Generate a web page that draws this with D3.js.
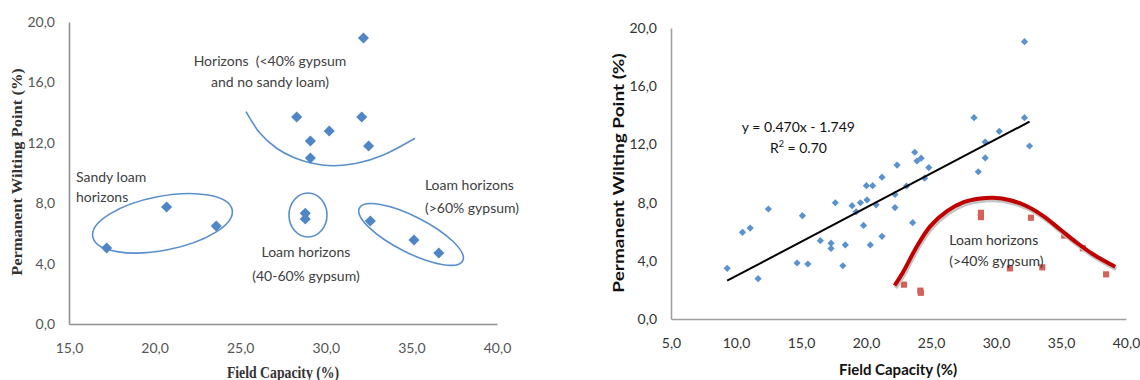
<!DOCTYPE html>
<html>
<head>
<meta charset="utf-8">
<script src="https://cdnjs.cloudflare.com/ajax/libs/d3/7.8.5/d3.min.js"></script>
<style>
  body { margin: 0; background: #fff; }
  svg { font-family: Lato, sans-serif; }
</style>
</head>
<body>
<script>
// ---- data ----
// left panel: all horizons, field capacity (%) vs permanent wilting point (%)
var leftFC  = [17.2, 20.7, 23.6, 28.8, 28.8, 32.6, 35.15, 36.6, 32.2, 28.3, 32.1, 30.2, 29.1, 32.5, 29.1];
var leftPWP = [5.03, 7.75, 6.49, 7.33, 6.95, 6.82, 5.56, 4.70, 18.94, 13.71, 13.71, 12.78, 12.12, 11.79, 10.99];

// right panel: blue = horizons used for the linear fit, red = loam horizons (>40% gypsum)
var blueFC  = [9.32, 10.50, 11.09, 12.49, 11.70, 15.11, 14.70, 15.53, 16.49, 17.31, 17.31, 17.64, 18.41, 18.22,
               18.93, 19.24, 19.57, 19.81, 20.03, 20.08, 20.33, 20.51, 20.78, 21.23, 21.23, 22.23, 22.23, 22.39,
               23.12, 23.59, 23.75, 23.92, 24.24, 24.51, 24.83, 28.31, 28.64, 29.17, 29.17, 30.25, 32.19, 32.19, 32.58];
var bluePWP = [3.48, 5.96, 6.25, 7.56, 2.77, 7.10, 3.85, 3.78, 5.38, 5.21, 4.85, 7.99, 5.09, 3.66,
               7.79, 7.37, 7.99, 6.43, 9.16, 8.18, 5.09, 9.16, 7.85, 9.75, 5.68, 8.56, 7.66, 10.58,
               9.14, 6.62, 11.46, 10.86, 11.05, 9.68, 10.41, 13.84, 10.12, 12.16, 11.07, 12.90, 19.06, 13.84, 11.89];
var redFC  = [22.92, 24.18, 24.22, 28.84, 28.84, 31.07, 32.69, 33.56, 35.25, 36.68, 38.47];
var redPWP = [2.36, 1.95, 1.80, 7.30, 7.00, 3.48, 6.96, 3.55, 5.73, 4.86, 3.07];

// linear fit shown on the chart: y = 0.470x - 1.749
var fitSlope = 0.470, fitIntercept = -1.749;

// red trend curve
var curveFC  = [22.20, 22.89, 23.92, 24.95, 26.23, 27.51, 28.79, 29.81, 31.10, 32.38, 33.65, 34.94, 36.22, 37.50, 39.17];
var curvePWP = [2.30, 3.29, 5.00, 6.38, 7.41, 8.03, 8.28, 8.33, 8.16, 7.75, 7.07, 6.15, 5.24, 4.43, 3.59];

// "Horizons (<40% gypsum...)" bracket curve in the left panel
var arcFC  = [25.34, 26.16, 27.13, 28.10, 29.08, 30.44, 31.81, 33.36, 35.21];
var arcPWP = [14.06, 12.63, 11.64, 11.04, 10.68, 10.48, 10.64, 11.19, 12.30];

var yTicks = [0, 4, 8, 12, 16, 20];
var xTicksLeft = [15, 20, 25, 30, 35, 40];
var xTicksRight = [5, 10, 15, 20, 25, 30, 35, 40];

var fmt = function(d){ return d3.format('.1f')(d).replace('.', ','); };
var zip = function(a, b){ return a.map(function(d, i){ return [d, b[i]]; }); };
var serif = '"Liberation Serif", "Times New Roman", serif';

var svg = d3.select('body').append('svg')
            .attr('width', 1140)
            .attr('height', 380);

function note(g, x, y, lines, anchor, lh, size, color){
  var t = g.append('text')
           .attr('text-anchor', anchor)
           .attr('font-size', size)
           .attr('fill', color)
           .style('white-space', 'pre');
  lines.forEach(function(s, i){
    t.append('tspan').attr('x', x).attr('y', y + i * lh).text(s);
  });
  return t;
}

function axes(g, x, y, h, xt, pad, lineColor, textColor){
  var ax = g.append('g')
            .attr('transform', 'translate(0,' + h + ')')
            .call(d3.axisBottom(x).tickValues(xt).tickFormat(fmt).tickSize(0).tickPadding(pad));
  var ay = g.append('g')
            .call(d3.axisLeft(y).tickValues(yTicks).tickFormat(fmt).tickSize(0).tickPadding(14));
  [ax, ay].forEach(function(a){
    a.attr('font-family', 'Lato, sans-serif').attr('font-size', 14);
    a.select('.domain').attr('stroke', lineColor).attr('stroke-width', 1.6);
    a.selectAll('text').attr('fill', textColor);
  });
}

// ================= left panel =================
var L = { left: 69, top: 22, width: 428, height: 302 };
var xL = d3.scaleLinear().domain([15, 40]).range([0, L.width]);
var yL = d3.scaleLinear().domain([0, 20]).range([L.height, 0]);
var gL = svg.append('g').attr('transform', 'translate(' + L.left + ',' + L.top + ')');

axes(gL, xL, yL, L.height, xTicksLeft, 19, '#8f8f8f', '#555');

var outline = '#5b8fcc';
// group outlines
gL.append('path')
  .datum(zip(arcFC, arcPWP))
  .attr('fill', 'none').attr('stroke', outline).attr('stroke-width', 1.6)
  .attr('d', d3.line().x(function(d){ return xL(d[0]); }).y(function(d){ return yL(d[1]); }).curve(d3.curveCatmullRom));

var rings = [
  { fc: 20.46, pwp: 6.67, rx: 71, ry: 27, rot: -11 },
  { fc: 28.96, pwp: 7.22, rx: 19, ry: 22, rot: 0 },
  { fc: 34.98, pwp: 5.93, rx: 58, ry: 18, rot: 27 }
];
gL.selectAll('.ring')
  .data(rings)
  .enter()
  .append('ellipse')
  .classed('ring', true)
  .attr('transform', function(d){ return 'translate(' + xL(d.fc) + ',' + yL(d.pwp) + ') rotate(' + d.rot + ')'; })
  .attr('rx', function(d){ return d.rx; })
  .attr('ry', function(d){ return d.ry; })
  .attr('fill', 'none').attr('stroke', outline).attr('stroke-width', 1.6);

gL.selectAll('.pt')
  .data(zip(leftFC, leftPWP))
  .enter()
  .append('path')
  .classed('pt', true)
  .attr('d', d3.symbol().type(d3.symbolSquare).size(62))
  .attr('transform', function(d){ return 'translate(' + xL(d[0]) + ',' + yL(d[1]) + ') rotate(45)'; })
  .attr('fill', '#4f86c6');

var noteColor = '#404040';
note(gL, xL(26.74), yL(17.09), ['Horizons  (<40% gypsum', 'and no sandy loam)'], 'middle', 21, 14, noteColor);
note(gL, xL(15.41), yL(9.40), ['Sandy loam', 'horizons'], 'start', 20, 14, noteColor);
note(gL, xL(28.84), yL(4.44), ['Loam horizons', '(40-60% gypsum)'], 'middle', 24, 14, noteColor);
note(gL, xL(35.79), yL(8.87), ['Loam horizons', '(>60% gypsum)'], 'start', 23, 14, noteColor);

// titles: the source picture is squeezed sideways, so glyphs are narrowed a little
svg.append('text')
   .attr('transform', 'translate(22,172) rotate(-90) scale(1,0.86)')
   .attr('text-anchor', 'middle')
   .style('font-family', serif)
   .attr('font-weight', 'bold')
   .attr('font-size', 16.5)
   .attr('fill', '#333')
   .text('Permanent Wilting Point (%)');
svg.append('text')
   .attr('transform', 'translate(283,378) scale(0.86,1)')
   .attr('text-anchor', 'middle')
   .style('font-family', serif)
   .attr('font-weight', 'bold')
   .attr('font-size', 16)
   .attr('fill', '#333')
   .text('Field Capacity (%)');

// ================= right panel =================
var R = { left: 671, top: 28, width: 455, height: 291 };
var xR = d3.scaleLinear().domain([5, 40]).range([0, R.width]);
var yR = d3.scaleLinear().domain([0, 20]).range([R.height, 0]);
var gR = svg.append('g').attr('transform', 'translate(' + R.left + ',' + R.top + ')');

axes(gR, xR, yR, R.height, xTicksRight, 19, '#a0a0a0', '#333');

gR.selectAll('.blue')
  .data(zip(blueFC, bluePWP))
  .enter()
  .append('path')
  .classed('blue', true)
  .attr('d', d3.symbol().type(d3.symbolSquare).size(26))
  .attr('transform', function(d){ return 'translate(' + xR(d[0]) + ',' + yR(d[1]) + ') rotate(45)'; })
  .attr('fill', '#5a92d0');

// linear fit across the blue points
var fitX = d3.extent(blueFC);
gR.append('line')
  .attr('x1', xR(fitX[0])).attr('y1', yR(fitSlope * fitX[0] + fitIntercept))
  .attr('x2', xR(fitX[1])).attr('y2', yR(fitSlope * fitX[1] + fitIntercept))
  .attr('stroke', '#000').attr('stroke-width', 2);

gR.selectAll('.red')
  .data(zip(redFC, redPWP))
  .enter()
  .append('path')
  .classed('red', true)
  .attr('d', d3.symbol().type(d3.symbolSquare).size(38))
  .attr('transform', function(d){ return 'translate(' + xR(d[0]) + ',' + yR(d[1]) + ')'; })
  .attr('fill', '#d2625a');

var curveLine = d3.line()
                  .x(function(d){ return xR(d[0]); })
                  .y(function(d){ return yR(d[1]); })
                  .curve(d3.curveCatmullRom);
// soft shadow then the red trend
gR.append('path')
  .datum(zip(curveFC, curvePWP))
  .attr('transform', 'translate(1,2.5)')
  .attr('fill', 'none').attr('stroke', '#c4c4c4').attr('stroke-width', 4)
  .attr('d', curveLine);
gR.append('path')
  .datum(zip(curveFC, curvePWP))
  .attr('fill', 'none').attr('stroke', '#c00000').attr('stroke-width', 4)
  .attr('d', curveLine);

note(gR, xR(14.80), yR(12.82), ['y = 0.470x - 1.749'], 'middle', 21, 14, '#111');
var r2 = gR.append('text')
           .attr('x', xR(14.80)).attr('y', yR(12.82) + 21)
           .attr('text-anchor', 'middle').attr('font-size', 14).attr('fill', '#111');
r2.append('tspan').text('R');
r2.append('tspan').attr('dy', -6).attr('font-size', 9).text('2');
r2.append('tspan').attr('dy', 6).text(' = 0.70');

note(gR, xR(26.41), yR(5.12), ['Loam horizons', '(>40% gypsum)'], 'start', 21, 14, '#333');

svg.append('text')
   .attr('transform', 'translate(624,173) rotate(-90) scale(1,0.82)')
   .attr('text-anchor', 'middle')
   .attr('font-weight', 'bold')
   .attr('font-size', 19)
   .attr('fill', '#111')
   .text('Permanent Wilting Point (%)');
svg.append('text')
   .attr('x', 898).attr('y', 375)
   .attr('text-anchor', 'middle')
   .attr('font-weight', 'bold')
   .attr('font-size', 15)
   .attr('fill', '#111')
   .text('Field Capacity (%)');
</script>
</body>
</html>
